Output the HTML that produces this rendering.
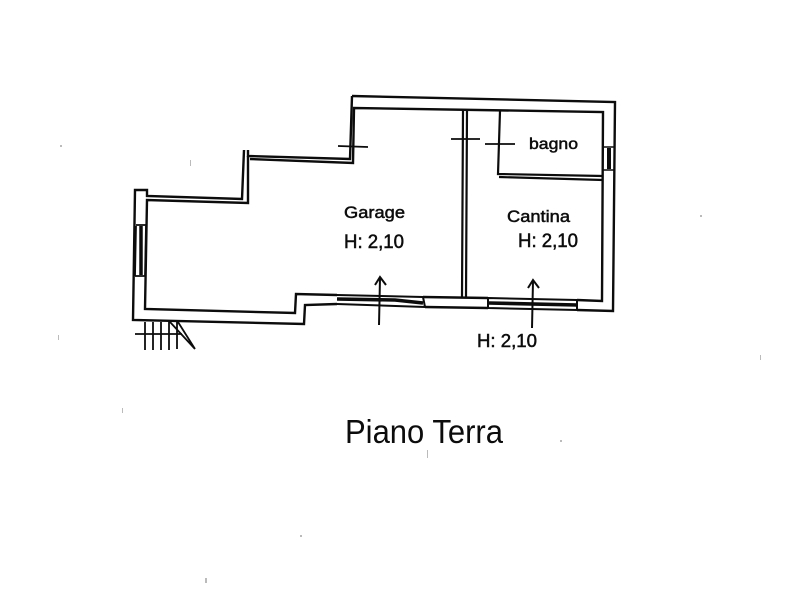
<!DOCTYPE html>
<html><head><meta charset="utf-8"><style>
html,body{margin:0;padding:0;background:#fff}
svg{display:block}
text{font-family:"Liberation Sans",sans-serif;fill:#0c0c0c}
</style></head><body>
<svg width="800" height="600" viewBox="0 0 800 600" xmlns="http://www.w3.org/2000/svg">
<rect width="800" height="600" fill="#fff"/>
<g fill="none" stroke="#0c0c0c" stroke-linejoin="miter">
<!-- outer wall -->
<path d="M352 96 L615 102 L613 311 L577 310 M488 308 L425 307 M337 304 L305 305 L304 324 L133 320 L135 190 L147 190 L147 196 L242 199 L244 150" stroke-width="2.4"/>
<path d="M248 150 L248 156 L350 159 L352 96" stroke-width="2.4"/>
<!-- inner wall -->
<path d="M248 156 L248 203 L147 200 L145 309 L295 313 L296 294 L337 295 M423 297 L488 298 M577 300 L602 301 L603 112 L354 108 L353 163 L250 159" stroke-width="2.4"/>
<!-- partition -->
<path d="M463 110 L462 297 M467 110 L466 297" stroke-width="2.2"/>
<!-- bagno -->
<path d="M500 111 L498 174 L603 176 M499 177 L603 180" stroke-width="2.2"/>
<!-- left window -->
<path d="M136 225 L147 225 M135 276 L146 276" stroke-width="1.8"/>
<path d="M141 226 L141 275" stroke-width="3.5"/>
<path d="M136 226 L135 276 M146 226 L145 276" stroke-width="1.8"/>
<!-- right window -->
<path d="M603 147 L614 147 M603 170 L614 170" stroke-width="1.5"/>
<path d="M609 148 L609 169" stroke-width="4"/>
<!-- bottom windows -->
<path d="M337 295 L423 297 M337 304 L425 307 M423 297 L425 307 M488 298 L488 308 M577 300 L577 310 M488 298 L577 300 M488 308 L577 310" stroke-width="2"/>
<path d="M337 299 L395 300 L423 303 M489 303 L577 305" stroke-width="3.6"/>
<!-- door ticks -->
<path d="M338 146 L368 147 M451 139 L480 139 M485 144 L515 144" stroke-width="1.8"/>
<!-- arrows -->
<path d="M380 278 L379 325 M375 285 L380 277 L386 285 M533 281 L532 328 M528 288 L533 280 L539 288" stroke-width="2"/>
<!-- stairs -->
<path d="M145 322 L145 350 M153 322 L153 350 M161 322 L161 350 M169 322 L169 350 M177 322 L177 349 M135 334 L182 334 M170 322 L195 349 M178 322 L195 349" stroke-width="1.8"/>
</g>
<text x="344" y="218" font-size="16.5" textLength="61" lengthAdjust="spacingAndGlyphs" stroke="#0c0c0c" stroke-width=".5">Garage</text>
<text x="344" y="248" font-size="19" textLength="60" lengthAdjust="spacingAndGlyphs" stroke="#0c0c0c" stroke-width=".5">H: 2,10</text>
<text x="507" y="222" font-size="17" textLength="63" lengthAdjust="spacingAndGlyphs" stroke="#0c0c0c" stroke-width=".5">Cantina</text>
<text x="518" y="247" font-size="19" textLength="60" lengthAdjust="spacingAndGlyphs" stroke="#0c0c0c" stroke-width=".5">H: 2,10</text>
<text x="529" y="149" font-size="16" textLength="49" lengthAdjust="spacingAndGlyphs" stroke="#0c0c0c" stroke-width=".5">bagno</text>
<text x="477" y="347" font-size="18.5" textLength="60" lengthAdjust="spacingAndGlyphs" stroke="#0c0c0c" stroke-width=".5">H: 2,10</text>
<text x="345" y="443" font-size="33" textLength="158" lengthAdjust="spacingAndGlyphs">Piano Terra</text>
<!-- specks -->
<g fill="#bbb">
<rect x="190" y="160" width="1" height="6"/><rect x="427" y="450" width="1" height="8"/><rect x="58" y="335" width="1" height="5"/><rect x="122" y="408" width="1" height="5"/><rect x="205" y="578" width="2" height="5"/><rect x="300" y="535" width="2" height="2"/><rect x="760" y="355" width="1" height="5"/><rect x="700" y="215" width="2" height="2"/><rect x="560" y="440" width="2" height="2"/><rect x="60" y="145" width="2" height="2"/>
</g>
</svg>
</body></html>
